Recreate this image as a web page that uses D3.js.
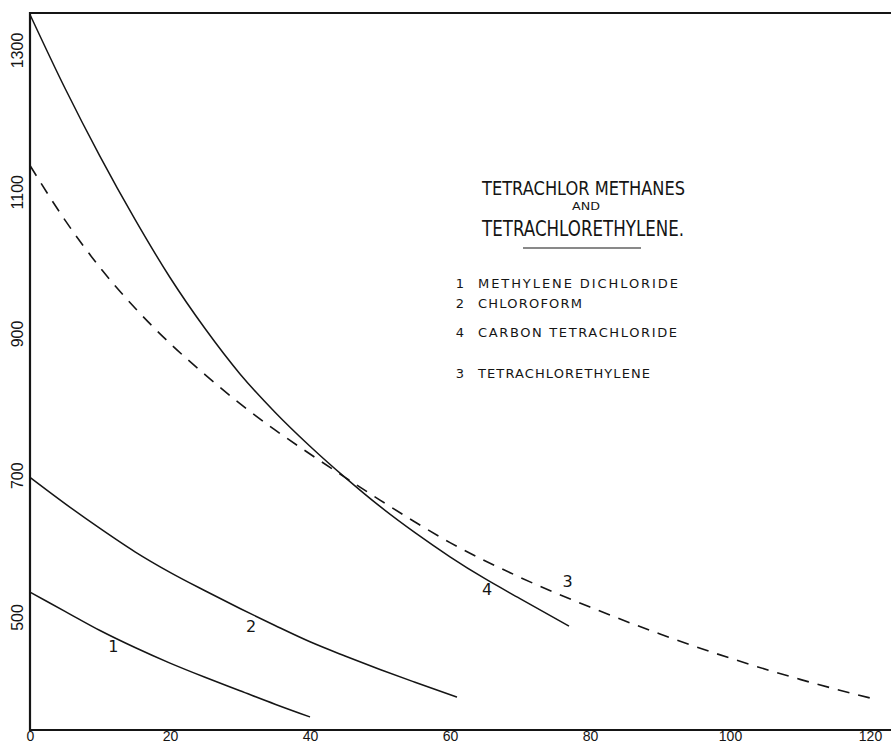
<!DOCTYPE html>
<html>
<head>
<meta charset="utf-8">
<script src="https://cdn.jsdelivr.net/npm/d3@7"></script>
<style>
  html, body { margin: 0; padding: 0; background: #fff; }
  svg { display: block; }
</style>
</head>
<body>
<svg id="chart" width="891" height="744"></svg>
<script>
// ---- data ----
const xTicks = [0, 20, 40, 60, 80, 100, 120];
const yTicks = [500, 700, 900, 1100, 1300];

// 1 Methylene dichloride
const s1x = [0, 5, 10, 15, 20, 25, 30, 35, 40];
const s1y = [535, 508, 481, 457, 435, 415, 396, 377, 359];
// 2 Chloroform
const s2x = [0, 5, 10, 15, 20, 25, 30, 35, 40, 45, 50, 55, 61];
const s2y = [697, 660, 625, 592, 563, 537, 512, 488, 465, 445, 426, 408, 387];
// 4 Carbon tetrachloride
const s4x = [0, 5, 10, 15, 20, 25, 30, 35, 40, 45, 50, 55, 60, 65, 70, 77];
const s4y = [1350, 1246, 1150, 1061, 979, 907, 843, 789, 741, 697, 656, 619, 585, 554, 526, 487];
// 3 Tetrachlorethylene (dashed)
const s3x = [0, 5, 10, 15, 20, 25, 30, 35, 40, 45, 50, 55, 60, 70, 80, 90, 100, 110, 120.7];
const s3y = [1137, 1060, 993, 936, 886, 842, 801, 764, 730, 697, 665, 634, 605, 556, 514, 476, 442, 412, 384];

const titleLines = ["TETRACHLOR METHANES", "AND", "TETRACHLORETHYLENE."];
const legendNums = ["1", "2", "4", "3"];
const legendNames = ["METHYLENE DICHLORIDE", "CHLOROFORM", "CARBON TETRACHLORIDE", "TETRACHLORETHYLENE"];
const curveLabels = ["1", "2", "4", "3"];

// ---- scales ----
const x = d3.scaleLinear().domain([0, 120]).range([30, 870]);
const y = d3.scaleLinear().domain([500, 1300]).range([617, 50]);
const xMax = x.invert(891);
const yMin = y.invert(730), yMax = y.invert(13);

const ink = "#151515";
const svg = d3.select("#chart");

// frame
const frame = d3.line().x(d => x(d[0])).y(d => y(d[1]));
svg.append("path")
  .attr("d", frame([[xMax, yMax], [0, yMax], [0, yMin], [xMax, yMin]]))
  .attr("fill", "none").attr("stroke", ink).attr("stroke-width", 2.2);

// x axis labels
const gx = svg.append("g").attr("transform", `translate(0,${y(yMin)})`)
  .call(d3.axisBottom(x).tickValues(xTicks).tickSize(0).tickPadding(1).tickFormat(d3.format("d")));
gx.select(".domain").remove();
gx.selectAll("text").attr("font-family", "Liberation Sans, Arial, sans-serif")
  .attr("font-size", 14).attr("fill", ink);

// y axis labels (rotated)
const gy = svg.append("g").attr("transform", `translate(${x(0)},0)`)
  .call(d3.axisLeft(y).tickValues(yTicks).tickSize(0).tickFormat(d3.format("d")));
gy.select(".domain").remove();
gy.selectAll("text")
  .attr("x", 0).attr("dy", 0)
  .attr("text-anchor", "middle")
  .attr("transform", "translate(-7,0) rotate(-90)")
  .attr("font-family", "Liberation Sans, Arial, sans-serif")
  .attr("font-size", 16).attr("fill", ink);

// curves
const line = d3.line().x(d => x(d[0])).y(d => y(d[1])).curve(d3.curveMonotoneX);
const series = [
  {xs: s1x, ys: s1y, dash: null},
  {xs: s2x, ys: s2y, dash: null},
  {xs: s4x, ys: s4y, dash: null},
  {xs: s3x, ys: s3y, dash: "12,9"}
];
series.forEach(s => {
  svg.append("path")
    .attr("d", line(s.xs.map((v, i) => [v, s.ys[i]])))
    .attr("fill", "none").attr("stroke", ink)
    .attr("stroke-width", s.dash ? 1.6 : 1.5)
    .attr("stroke-dasharray", s.dash);
});

// curve number labels
const clx = [11.9, 31.6, 65.3, 76.8];
const cly = [451, 479, 531, 542];
svg.selectAll("text.cl").data(curveLabels).join("text")
  .attr("class", "cl")
  .attr("x", (d, i) => x(clx[i])).attr("y", (d, i) => y(cly[i]))
  .attr("text-anchor", "middle")
  .attr("font-family", "DejaVu Sans, sans-serif")
  .attr("font-size", 16).attr("fill", ink)
  .text(d => d);

// title block
const tx = [482, 586, 482], ty = [195, 210, 236], tsz = [20, 10, 21], tlen = [203, 28, 202];
const anchors = ["start", "middle", "start"];
titleLines.forEach((t, i) => {
  svg.append("text")
    .attr("x", tx[i]).attr("y", ty[i])
    .attr("text-anchor", anchors[i])
    .attr("font-family", "DejaVu Sans, sans-serif")
    .attr("font-size", tsz[i]).attr("fill", ink)
    .attr("textLength", tlen[i]).attr("lengthAdjust", "spacingAndGlyphs")
    .text(t);
});
svg.append("line").attr("x1", 523).attr("x2", 641).attr("y1", 248).attr("y2", 248)
  .attr("stroke", ink).attr("stroke-width", 1.2);

// legend
const ly = [288, 308, 337, 378];
const llen = [200, 104, 199, 172];
legendNums.forEach((n, i) => {
  svg.append("text")
    .attr("x", 460).attr("y", ly[i]).attr("text-anchor", "middle")
    .attr("font-family", "DejaVu Sans, sans-serif").attr("font-size", 13).attr("fill", ink)
    .text(n);
  svg.append("text")
    .attr("x", 478).attr("y", ly[i])
    .attr("font-family", "DejaVu Sans, sans-serif").attr("font-size", 13).attr("fill", ink)
    .attr("textLength", llen[i]).attr("lengthAdjust", "spacing")
    .text(legendNames[i]);
});
</script>
</body>
</html>
